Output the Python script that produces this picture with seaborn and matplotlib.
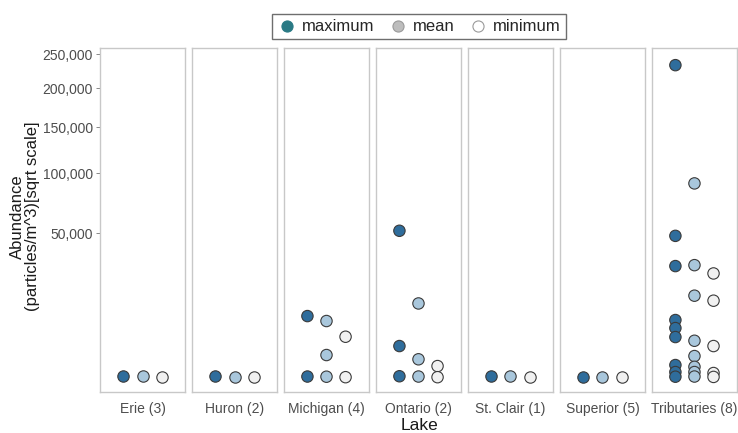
import numpy as np
import pandas as pd
import matplotlib
matplotlib.use("Agg")
import matplotlib.pyplot as plt
from matplotlib.lines import Line2D
import seaborn as sns

# Microplastic abundance (particles/m^3) per lake: maximum, mean and minimum per study
lakes = ["Erie (3)", "Huron (2)", "Michigan (4)", "Ontario (2)",
         "St. Clair (1)", "Superior (5)", "Tributaries (8)"]
stats = ["maximum", "mean", "minimum"]

erie_max = [8]
erie_mean = [5]
erie_min = [1]
huron_max = [6]
huron_mean = [4]
huron_min = [1]
michigan_max = [9100, 4]
michigan_mean = [7700, 1240, 3]
michigan_min = [4030, 1]
ontario_max = [51600, 2410, 6]
ontario_mean = [13200, 820, 4]
ontario_min = [330, 1]
stclair_max = [9]
stclair_mean = [5]
stclair_min = [2]
superior_max = [3]
superior_mean = [2]
superior_min = [1]
trib_max = [233300, 48100, 29800, 7970, 5910, 3970, 390, 80, 3]
trib_mean = [90200, 30300, 16100, 3280, 1130, 290, 80, 4]
trib_min = [26000, 14200, 2410, 55, 2]

series = {
    "Erie (3)": (erie_max, erie_mean, erie_min),
    "Huron (2)": (huron_max, huron_mean, huron_min),
    "Michigan (4)": (michigan_max, michigan_mean, michigan_min),
    "Ontario (2)": (ontario_max, ontario_mean, ontario_min),
    "St. Clair (1)": (stclair_max, stclair_mean, stclair_min),
    "Superior (5)": (superior_max, superior_mean, superior_min),
    "Tributaries (8)": (trib_max, trib_mean, trib_min),
}

rows = []
for lake, triple in series.items():
    for stat, vals in zip(stats, triple):
        for v in vals:
            rows.append({"Lake": lake, "stat": stat, "abundance": v})
df = pd.DataFrame(rows)

point_colors = {"maximum": "#2f6d9c", "mean": "#a9c7dc", "minimum": "#f1f1f1"}
legend_colors = {"maximum": "#2a7a85", "mean": "#bdbdbd", "minimum": "#ffffff"}

sns.set_theme(style="white")
plt.rcParams["font.family"] = ["Liberation Sans", "DejaVu Sans"]

def fwd(x):
    x = np.asarray(x, dtype=float)
    return np.sign(x) * np.sqrt(np.abs(x))

def inv(y):
    y = np.asarray(y, dtype=float)
    return np.sign(y) * y ** 2

fig, axes = plt.subplots(1, len(lakes), sharey=True, figsize=(7.38, 4.33), dpi=100)
fig.subplots_adjust(left=0.1355, right=0.9986, top=0.889, bottom=0.095, wspace=0.082)

for ax, lake in zip(axes, lakes):
    sub = df[df["Lake"] == lake]
    sns.stripplot(data=sub, x="stat", y="abundance", hue="stat", order=stats,
                  hue_order=stats, palette=point_colors, jitter=False, size=8.2,
                  linewidth=0.8, edgecolor="#3a3a3a", legend=False, ax=ax, zorder=3)
    ax.set_yscale("function", functions=(fwd, inv))
    ax.set_xlim(-1.23, 3.23)
    ax.set_xticks([1])
    ax.set_xticklabels([lake])
    ax.set_xlabel("")
    ax.set_ylabel("")
    for s in ax.spines.values():
        s.set_visible(True)
        s.set_color("#c8c8c8")
        s.set_linewidth(1.0)
    ax.tick_params(axis="x", length=3, width=0.7, color="#888888",
                   labelsize=10, labelcolor="#4d4d4d", pad=4)
    ax.tick_params(axis="y", length=3, width=0.7, color="#888888",
                   labelsize=10, labelcolor="#4d4d4d", pad=2, left=True)
    ax.grid(False)

yticks = [50000, 100000, 150000, 200000, 250000]
axes[0].set_ylim(-470, 259500)
axes[0].set_yticks(yticks)
axes[0].set_yticklabels([f"{t:,}" for t in yticks])
for ax in axes[1:]:
    ax.tick_params(axis="y", left=False)

fig.text(0.568, 3 / 433, "Lake", ha="center", va="baseline", fontsize=12.5, color="#1a1a1a")
fig.text(0.034, 0.50, "Abundance\n(particles/m^3)[sqrt scale]", ha="center", va="center",
         rotation=90, fontsize=12, color="#1a1a1a", linespacing=1.0)

handles = [Line2D([0], [0], marker="o", linestyle="", markersize=8,
                  markerfacecolor=legend_colors[s],
                  markeredgecolor="#9a9a9a" if s != "maximum" else legend_colors[s],
                  markeredgewidth=0.8, label=s) for s in stats]
leg = fig.legend(handles=handles, loc="center", bbox_to_anchor=(0.568, 0.938), ncol=3,
                 frameon=True, fontsize=12, handletextpad=0.3, columnspacing=0.8,
                 borderpad=0.3, handlelength=1.2, fancybox=False)
leg.get_frame().set_edgecolor("#4a4a4a")
leg.get_frame().set_linewidth(1.0)

fig.savefig("out.png", dpi=100)
